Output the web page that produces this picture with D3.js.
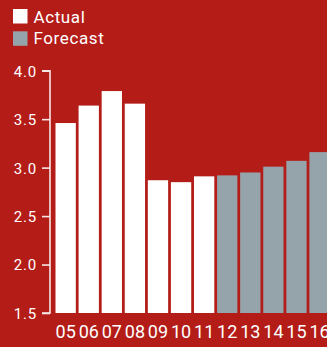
<!DOCTYPE html>
<html>
<head>
<meta charset="utf-8">
<script src="https://cdn.jsdelivr.net/npm/d3@7"></script>
<style>
  html, body { margin: 0; padding: 0; background: #b41c18; overflow: hidden; }
  svg { display: block; }
  text { font-family: "Roboto", "DejaVu Sans Condensed", sans-serif; fill: #ffffff; }
  .narrow { font-family: "Liberation Sans Narrow", "Roboto", sans-serif; }
</style>
</head>
<body>
<svg id="chart" width="327" height="347"></svg>
<script>
// Yearly values: actuals through 2011, forecast afterwards
const years = ["05", "06", "07", "08", "09", "10", "11", "12", "13", "14", "15", "16"];
const values = [3.46, 3.64, 3.79, 3.66, 2.87, 2.85, 2.91, 2.92, 2.95, 3.01, 3.07, 3.16];
const kinds = ["Actual", "Actual", "Actual", "Actual", "Actual", "Actual", "Actual",
               "Forecast", "Forecast", "Forecast", "Forecast", "Forecast"];
const yTicks = [1.5, 2.0, 2.5, 3.0, 3.5, 4.0];
const legendItems = ["Actual", "Forecast"];

const colors = { Actual: "#ffffff", Forecast: "#95a3ab" };

const svg = d3.select("#chart");
const x0 = 50, yTop = 70.7, yBottom = 313;

const x = d3.scaleBand()
  .domain(years)
  .range([x0 + 5.5, x0 + 5.5 + 22.85 * years.length])
  .paddingInner(0.12)
  .paddingOuter(0.0);

const y = d3.scaleLinear().domain([1.5, 4.0]).range([yBottom, yTop]);

// Bars
svg.append("g").selectAll("rect")
  .data(years)
  .join("rect")
  .attr("x", d => x(d))
  .attr("width", x.bandwidth())
  .attr("y", (d, i) => y(values[i]))
  .attr("height", (d, i) => yBottom - y(values[i]))
  .attr("fill", (d, i) => colors[kinds[i]]);

// Y axis
const yAxis = d3.axisLeft(y)
  .tickValues(yTicks)
  .tickFormat(d3.format(".1f"))
  .tickSize(8)
  .tickPadding(5);

const ya = svg.append("g")
  .attr("transform", `translate(${x0},0)`)
  .call(yAxis);
ya.select(".domain").attr("stroke", "#f6e6e6").attr("stroke-width", 1.6)
  .attr("d", `M-8,${yTop}H0V${yBottom}H-8`);
ya.selectAll(".tick line").attr("stroke", "#f6e6e6").attr("stroke-width", 1.6);
ya.selectAll(".tick text")
  .attr("font-size", 15)
  .attr("letter-spacing", 0.8)
  .attr("dy", "0.36em")
  .style("fill", "#ffffff");

// X axis labels
const xAxis = d3.axisBottom(x).tickSize(0).tickPadding(12);
const xa = svg.append("g")
  .attr("transform", `translate(0,${yBottom})`)
  .call(xAxis);
xa.select(".domain").remove();
xa.selectAll(".tick text")
  .attr("class", "narrow")
  .attr("font-size", 18)
  .style("fill", "#ffffff");

// Legend
const lg = svg.append("g");
legendItems.forEach((k, i) => {
  lg.append("rect")
    .attr("x", 13).attr("y", 9 + i * 22.3)
    .attr("width", 14.5).attr("height", 14.5)
    .attr("fill", colors[k]);
  lg.append("text")
    .attr("x", 33.5).attr("y", 22.5 + i * 21.8)
    .attr("font-size", 17)
    .attr("letter-spacing", 0.6)
    .text(k);
});
</script>
</body>
</html>
